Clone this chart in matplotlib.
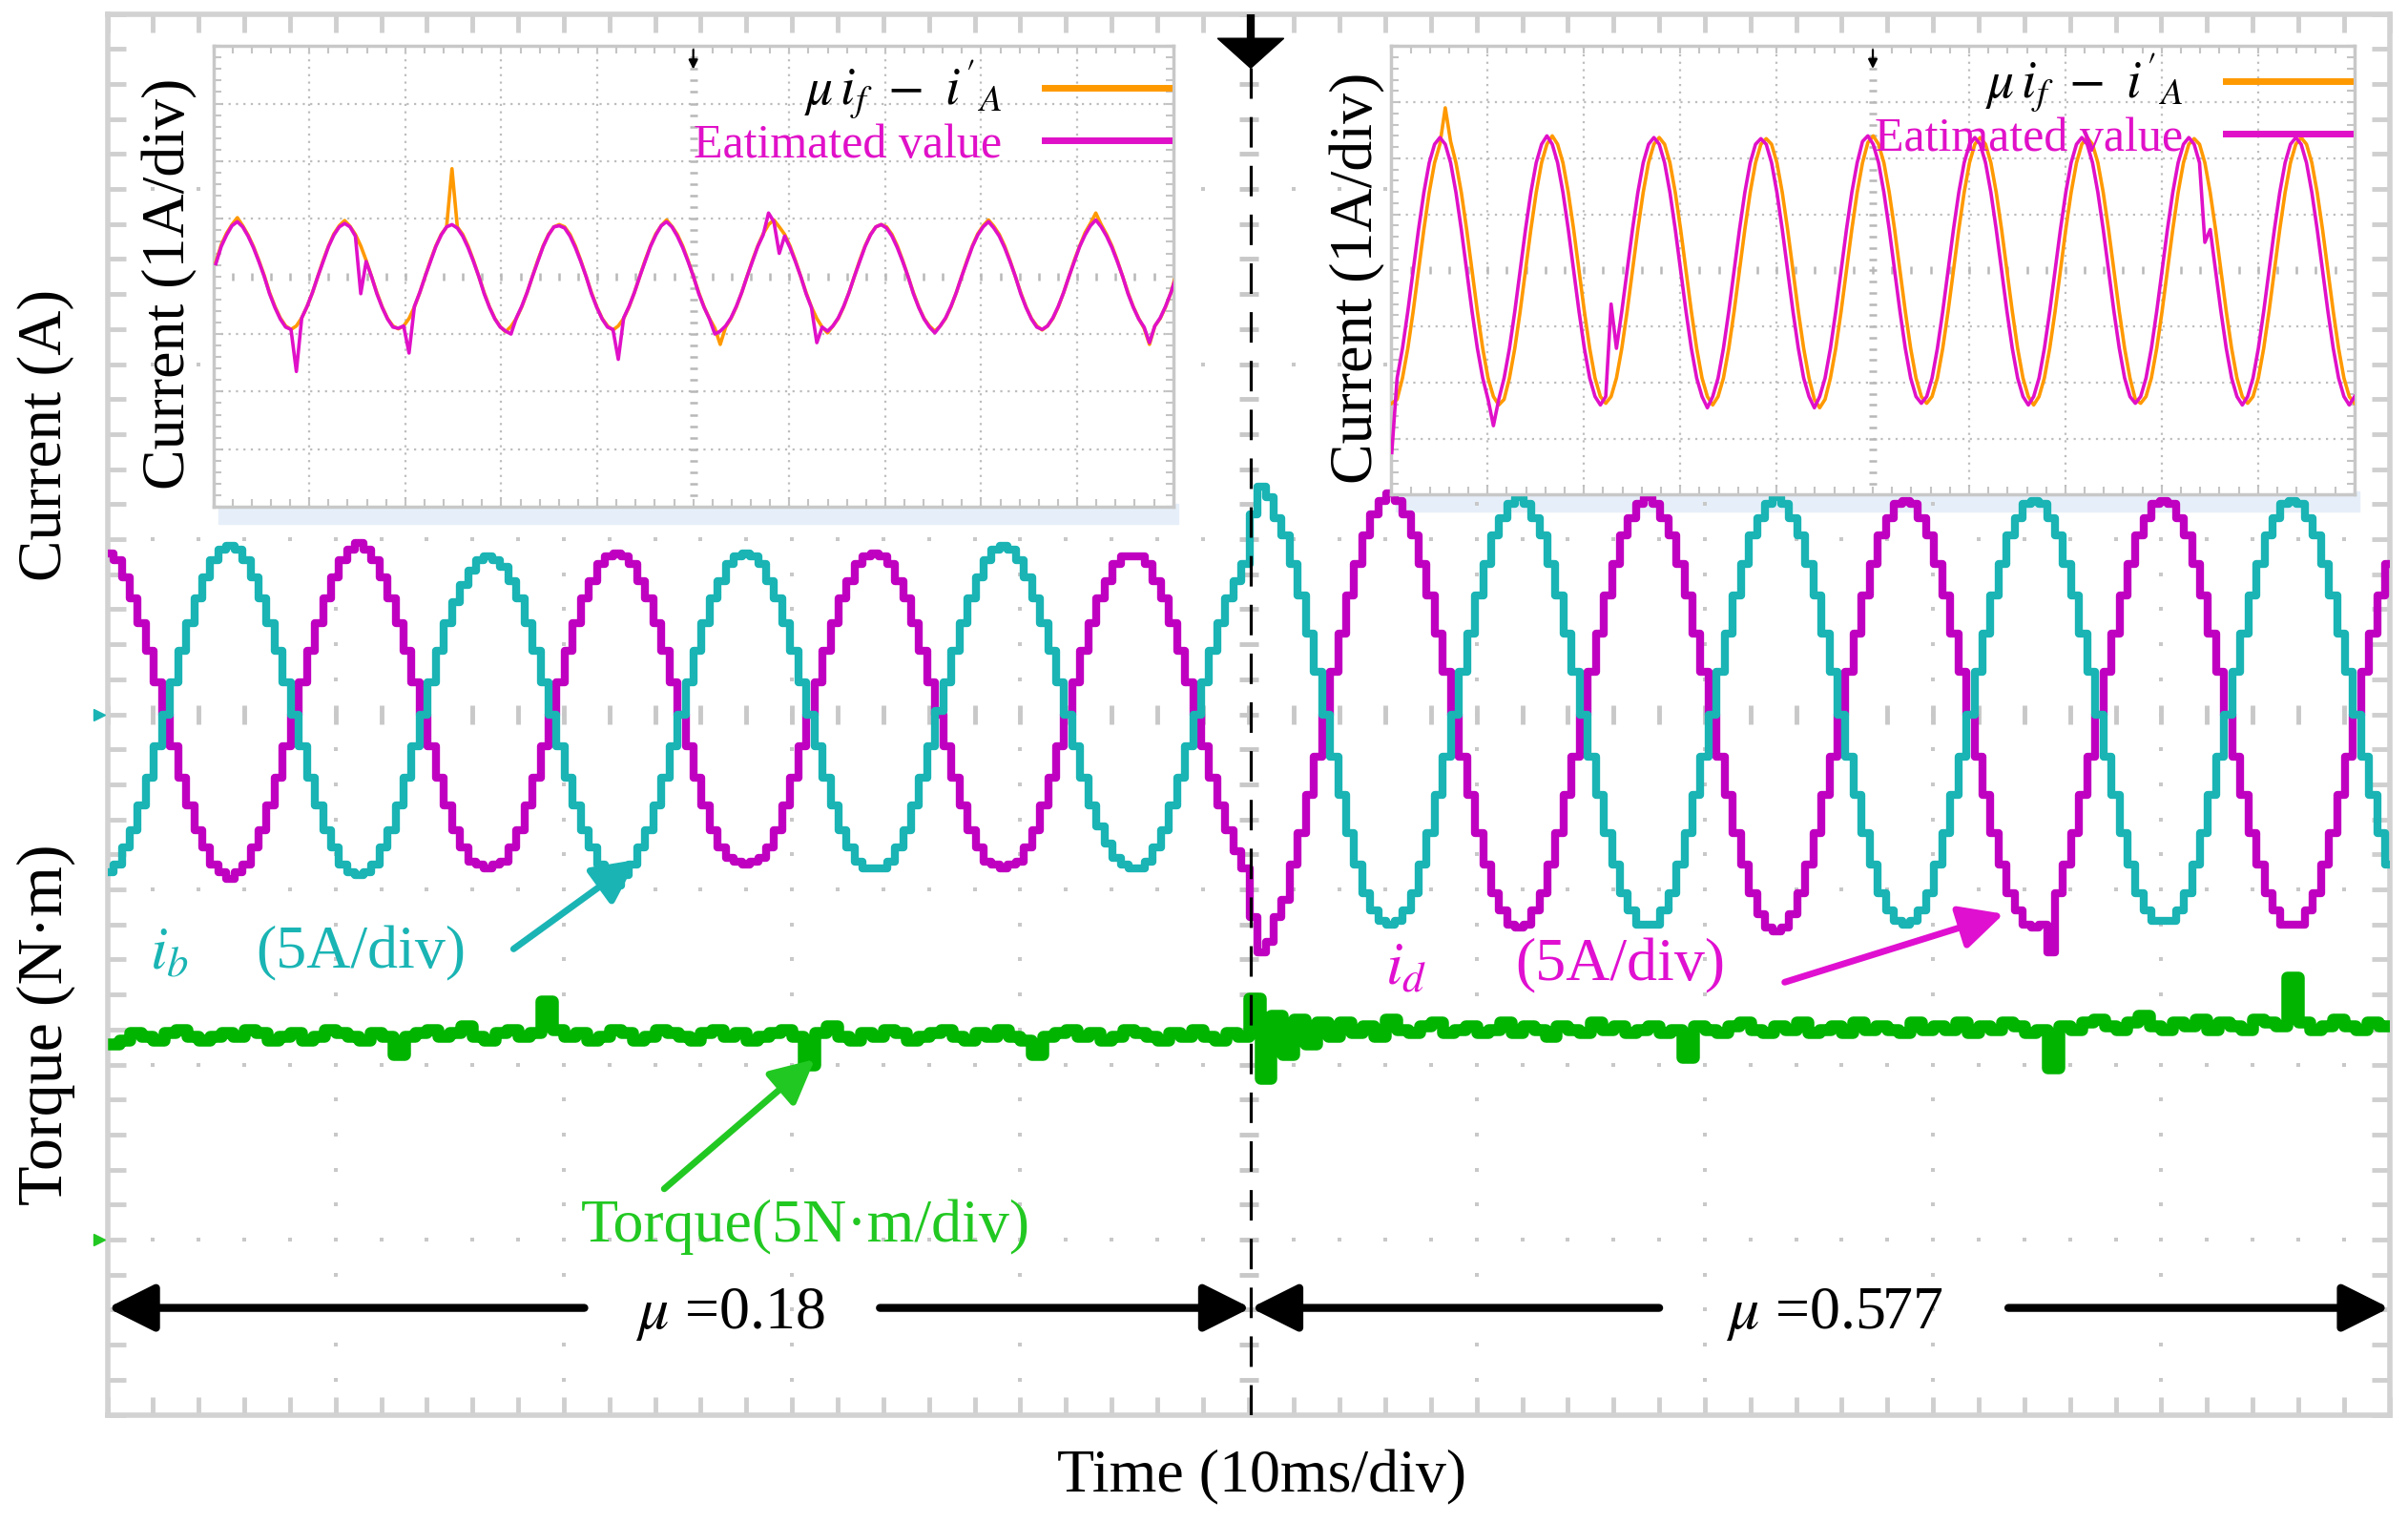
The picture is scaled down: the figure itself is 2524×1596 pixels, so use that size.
import numpy as np
import matplotlib
matplotlib.use('Agg')
import matplotlib.pyplot as plt
from matplotlib.patches import Polygon, Rectangle, FancyArrowPatch
from matplotlib.lines import Line2D

plt.rcParams['font.family'] = ['Liberation Serif', 'DejaVu Serif']
plt.rcParams['mathtext.fontset'] = 'stix'

# ---------------- data ----------------
# main screen: 10 ms/div, currents 5 A/div, torque 5 N*m/div (zero 3 div below centre)
main_t0_ms = 0.095
main_dt_ms = 0.353
i_b = [-4.5, -4.3, -3.8, -3.3, -2.6, -1.8, -0.9, 0.0, 0.9, 1.8, 2.6, 3.3, 3.9, 4.4, 4.7, 4.8, 4.7, 4.4, 3.9, 3.3, 2.6, 1.8, 0.9, 0.0, -0.9, -1.8, -2.6, -3.3, -3.8, -4.3, -4.5, -4.6,
       -4.5, -4.3, -3.8, -3.3, -2.6, -1.8, -0.9, 0.0, 0.9, 1.8, 2.6, 3.2, 3.7, 4.1, 4.4, 4.5, 4.4, 4.2, 3.8, 3.3, 2.6, 1.8, 0.9, 0.0, -0.9, -1.8, -2.6, -3.3, -3.8, -4.3, -4.6, -4.9,
       -4.6, -4.3, -3.8, -3.3, -2.6, -1.8, -0.9, 0.0, 0.9, 1.8, 2.6, 3.3, 3.8, 4.3, 4.5, 4.6, 4.5, 4.3, 3.8, 3.3, 2.6, 1.8, 0.9, 0.0, -0.9, -1.8, -2.6, -3.3, -3.8, -4.2, -4.4, -4.4,
       -4.4, -4.2, -3.8, -3.3, -2.6, -1.8, -0.9, 0.1, 0.9, 1.8, 2.6, 3.3, 3.9, 4.4, 4.7, 4.8, 4.7, 4.4, 3.9, 3.3, 2.6, 1.8, 0.9, 0.0, -0.9, -1.8, -2.6, -3.2, -3.7, -4.1, -4.3, -4.4,
       -4.4, -4.2, -3.8, -3.3, -2.6, -1.8, -0.9, 0.0, 0.9, 1.8, 2.6, 3.3, 3.8, 4.3, 5.7, 6.5, 6.2, 5.6, 5.1, 4.3, 3.4, 2.3, 1.2, 0.0, -1.2, -2.3, -3.4, -4.3, -5.1, -5.6, -5.9, -6.0,
       -5.9, -5.6, -5.1, -4.3, -3.4, -2.3, -1.2, 0.0, 1.2, 2.3, 3.4, 4.3, 5.1, 5.6, 6.0, 6.2, 6.0, 5.6, 5.1, 4.3, 3.4, 2.3, 1.2, 0.0, -1.2, -2.3, -3.4, -4.3, -5.1, -5.6, -6.0, -6.0,
       -6.0, -5.6, -5.1, -4.3, -3.4, -2.3, -1.2, 0.0, 1.2, 2.3, 3.4, 4.3, 5.1, 5.6, 6.0, 6.2, 6.0, 5.6, 5.1, 4.3, 3.4, 2.3, 1.2, 0.0, -1.2, -2.3, -3.4, -4.3, -5.1, -5.6, -5.9, -6.0,
       -5.9, -5.6, -5.1, -4.3, -3.4, -2.3, -1.2, 0.0, 1.2, 2.3, 3.4, 4.3, 5.1, 5.6, 6.0, 6.1, 6.0, 5.6, 5.1, 4.3, 3.4, 2.3, 1.2, 0.0, -1.2, -2.3, -3.4, -4.3, -5.1, -5.6, -5.9, -5.9,
       -5.9, -5.6, -5.1, -4.3, -3.4, -2.3, -1.2, 0.0, 1.2, 2.3, 3.4, 4.3, 5.1, 5.6, 6.0, 6.1, 6.0, 5.6, 5.1, 4.3, 3.4, 2.3, 1.2, 0.0, -1.2, -2.3, -3.4, -4.3]
i_d = [4.6, 4.4, 3.9, 3.3, 2.6, 1.8, 0.9, 0.0, -0.9, -1.8, -2.6, -3.3, -3.8, -4.3, -4.5, -4.7, -4.5, -4.3, -3.8, -3.3, -2.6, -1.8, -0.9, 0.0, 0.9, 1.8, 2.6, 3.3, 3.9, 4.4, 4.7, 4.9,
       4.7, 4.4, 3.9, 3.3, 2.6, 1.8, 0.9, 0.0, -0.9, -1.8, -2.6, -3.3, -3.8, -4.2, -4.3, -4.4, -4.3, -4.2, -3.8, -3.3, -2.6, -1.8, -0.9, 0.0, 0.9, 1.8, 2.6, 3.3, 3.8, 4.3, 4.5, 4.6,
       4.5, 4.3, 3.8, 3.3, 2.6, 1.8, 0.9, 0.0, -0.9, -1.8, -2.6, -3.3, -3.8, -4.1, -4.2, -4.3, -4.2, -4.1, -3.8, -3.3, -2.6, -1.8, -0.9, 0.0, 0.9, 1.8, 2.6, 3.3, 3.8, 4.3, 4.5, 4.6,
       4.5, 4.3, 3.8, 3.3, 2.6, 1.8, 0.9, 0.0, -0.9, -1.8, -2.6, -3.3, -3.8, -4.2, -4.3, -4.4, -4.3, -4.2, -3.8, -3.3, -2.6, -1.8, -0.9, 0.0, 0.9, 1.8, 2.6, 3.3, 3.8, 4.3, 4.5, 4.5,
       4.5, 4.3, 3.8, 3.3, 2.6, 1.8, 0.9, 0.0, -0.9, -1.8, -2.6, -3.3, -3.9, -4.4, -5.8, -6.8, -6.5, -5.8, -5.3, -4.3, -3.4, -2.3, -1.2, 0.0, 1.2, 2.3, 3.4, 4.3, 5.1, 5.7, 6.1, 6.3,
       6.1, 5.7, 5.1, 4.3, 3.4, 2.3, 1.2, 0.0, -1.2, -2.3, -3.4, -4.3, -5.1, -5.6, -6.0, -6.1, -6.0, -5.6, -5.1, -4.3, -3.4, -2.3, -1.2, 0.0, 1.2, 2.3, 3.4, 4.3, 5.1, 5.6, 6.0, 6.2,
       6.0, 5.6, 5.1, 4.3, 3.4, 2.3, 1.2, 0.0, -1.2, -2.3, -3.4, -4.3, -5.1, -5.7, -6.1, -6.2, -6.1, -5.7, -5.1, -4.3, -3.4, -2.3, -1.2, 0.0, 1.2, 2.3, 3.4, 4.3, 5.1, 5.6, 6.0, 6.1,
       6.0, 5.6, 5.1, 4.3, 3.4, 2.3, 1.2, 0.0, -1.2, -2.3, -3.4, -4.3, -5.1, -5.6, -6.0, -6.1, -6.0, -6.8, -5.1, -4.3, -3.4, -2.3, -1.2, 0.0, 1.2, 2.3, 3.4, 4.3, 5.1, 5.6, 6.0, 6.1,
       6.0, 5.6, 5.1, 4.3, 3.4, 2.3, 1.2, 0.0, -1.2, -2.3, -3.4, -4.3, -5.1, -5.6, -6.0, -6.0, -6.0, -5.6, -5.1, -4.3, -3.4, -2.3, -1.2, 0.0, 1.2, 2.3, 3.4, 4.3]
torque_t0_ms = 0.25
torque_dt_ms = 0.5
torque = [5.6, 5.7, 5.9, 5.8, 5.7, 5.9, 6.0, 5.8, 5.7, 5.8, 5.9, 5.8, 6.0, 5.9, 5.7, 5.8, 5.9, 5.7, 5.8, 6.0,
          5.9, 5.8, 5.7, 5.9, 5.8, 5.3, 5.8, 5.9, 6.0, 5.8, 5.9, 6.1, 5.8, 5.7, 5.9, 6.0, 5.8, 5.9, 6.8, 6.0,
          5.8, 5.9, 5.7, 5.8, 6.0, 5.9, 5.7, 5.8, 6.0, 5.9, 5.8, 5.7, 5.9, 6.0, 5.8, 5.9, 5.7, 5.8, 5.9, 6.0,
          5.8, 5.0, 5.9, 6.1, 5.8, 5.7, 5.9, 5.8, 6.0, 5.9, 5.7, 5.8, 5.9, 6.0, 5.8, 5.7, 5.9, 5.8, 6.0, 5.8,
          5.7, 5.3, 5.8, 5.9, 6.0, 5.8, 5.9, 5.7, 5.8, 6.0, 5.9, 5.8, 5.7, 5.9, 5.8, 6.0, 5.8, 5.7, 5.9, 5.8,
          6.9, 4.6, 6.4, 5.3, 6.3, 5.6, 6.2, 5.8, 6.2, 5.9, 6.1, 5.8, 6.3, 6.0, 5.9, 6.1, 6.2, 5.9, 6.0, 6.1,
          5.9, 6.0, 6.2, 5.9, 6.1, 6.0, 5.8, 6.1, 6.0, 5.9, 6.2, 6.0, 6.1, 5.9, 6.0, 6.1, 5.9, 6.0, 5.2, 6.1,
          6.0, 5.9, 6.1, 6.2, 6.0, 5.9, 6.1, 6.0, 6.2, 5.9, 6.0, 6.1, 5.9, 6.2, 6.0, 6.1, 6.0, 5.9, 6.2, 6.0,
          6.1, 6.0, 6.2, 5.9, 6.1, 6.0, 6.2, 6.1, 5.9, 6.0, 4.9, 6.1, 6.0, 6.2, 6.3, 6.1, 6.0, 6.2, 6.4, 6.1,
          6.0, 6.2, 6.1, 6.3, 6.0, 6.2, 6.1, 6.0, 6.3, 6.2, 6.1, 7.5, 6.2, 6.0, 6.1, 6.3, 6.1, 6.0, 6.2, 6.1]

# inset 1 (mu = 0.18), 1 A/div
in1_t0 = 0.264
in1_dt = 0.559
in1_ref = [0.25, 0.55, 0.75, 0.9, 1.02, 0.88, 0.72, 0.52, 0.28, 0.02, -0.28, -0.52, -0.72, -0.86, -0.92, -0.86, -0.72, -0.52, -0.28, 0.0,
           0.28, 0.53, 0.74, 0.88, 0.97, 0.87, 0.73, 0.53, 0.28, 0.0, -0.28, -0.53, -0.73, -0.86, -0.91, -0.86, -0.73, -0.53, -0.28, 0.0,
           0.28, 0.53, 0.73, 0.86, 1.87, 0.86, 0.73, 0.53, 0.28, 0.0, -0.28, -0.53, -0.73, -0.87, -0.96, -0.87, -0.73, -0.53, -0.28, 0.0,
           0.28, 0.53, 0.73, 0.86, 0.9, 0.86, 0.73, 0.53, 0.28, 0.0, -0.28, -0.53, -0.73, -0.86, -0.93, -0.86, -0.73, -0.53, -0.28, 0.0,
           0.28, 0.53, 0.74, 0.88, 0.98, 0.87, 0.73, 0.53, 0.28, 0.0, -0.28, -0.53, -0.73, -0.9, -1.18, -0.88, -0.73, -0.53, -0.28, 0.0,
           0.28, 0.53, 0.74, 0.9, 0.98, 0.86, 0.73, 0.53, 0.28, 0.0, -0.28, -0.53, -0.73, -0.88, -0.98, -0.86, -0.73, -0.53, -0.28, 0.0,
           0.28, 0.53, 0.73, 0.86, 0.9, 0.86, 0.73, 0.53, 0.28, 0.0, -0.28, -0.53, -0.73, -0.86, -0.95, -0.86, -0.73, -0.53, -0.28, 0.0,
           0.28, 0.53, 0.74, 0.88, 0.98, 0.87, 0.73, 0.53, 0.28, 0.0, -0.28, -0.53, -0.73, -0.86, -0.93, -0.86, -0.73, -0.53, -0.28, 0.0,
           0.28, 0.53, 0.76, 0.92, 1.1, 0.9, 0.73, 0.53, 0.28, 0.0, -0.28, -0.53, -0.73, -0.9, -1.18, -0.86, -0.73, -0.53, -0.28, 0.05]
in1_est = [0.22, 0.52, 0.72, 0.88, 0.95, 0.86, 0.70, 0.50, 0.26, 0.0, -0.3, -0.54, -0.74, -0.88, -0.92, -1.65, -0.72, -0.52, -0.28, 0.0,
           0.26, 0.52, 0.72, 0.86, 0.92, 0.86, 0.70, -0.3, 0.26, 0.0, -0.3, -0.54, -0.74, -0.88, -0.9, -0.86, -1.33, -0.52, -0.28, 0.0,
           0.26, 0.52, 0.72, 0.86, 0.9, 0.84, 0.70, 0.50, 0.26, 0.0, -0.3, -0.54, -0.74, -0.88, -0.95, -1.0, -0.72, -0.52, -0.28, 0.0,
           0.26, 0.52, 0.72, 0.86, 0.88, 0.84, 0.70, 0.50, 0.26, 0.0, -0.3, -0.54, -0.74, -0.88, -0.92, -1.44, -0.72, -0.52, -0.28, 0.0,
           0.26, 0.52, 0.72, 0.88, 0.95, 0.86, 0.70, 0.50, 0.26, 0.0, -0.3, -0.54, -0.74, -1.0, -0.95, -0.86, -0.72, -0.52, -0.28, 0.0,
           0.26, 0.52, 0.72, 1.1, 0.95, 0.4, 0.70, 0.50, 0.26, 0.0, -0.3, -0.54, -1.15, -0.88, -0.95, -0.86, -0.72, -0.52, -0.28, 0.0,
           0.26, 0.52, 0.72, 0.86, 0.9, 0.84, 0.70, 0.50, 0.26, 0.0, -0.3, -0.54, -0.74, -0.88, -0.98, -0.86, -0.72, -0.52, -0.28, 0.0,
           0.26, 0.52, 0.72, 0.86, 0.95, 0.84, 0.70, 0.50, 0.26, 0.0, -0.3, -0.54, -0.74, -0.88, -0.92, -0.86, -0.72, -0.52, -0.28, 0.0,
           0.26, 0.52, 0.72, 0.88, 0.98, 0.86, 0.70, 0.50, 0.26, 0.0, -0.3, -0.54, -0.74, -0.88, -1.15, -0.86, -0.72, -0.52, -0.28, 0.0]

# inset 2 (mu = 0.577), 1 A/div
in2_t0 = 0.045
in2_dt = 0.5555
in2_ref = [-2.37, -2.3, -1.92, -1.39, -0.73, 0.0, 0.73, 1.39, 1.92, 2.25, 2.9, 2.3, 1.92, 1.39, 0.73, 0.0, -0.73, -1.39, -1.92, -2.25,
           -2.4, -2.3, -1.92, -1.39, -0.73, 0.0, 0.73, 1.39, 1.92, 2.25, 2.4, 2.25, 1.92, 1.39, 0.73, 0.0, -0.73, -1.39, -1.92, -2.25,
           -2.37, -2.25, -1.92, -1.39, -0.73, 0.0, 0.73, 1.39, 1.92, 2.25, 2.37, 2.25, 1.92, 1.39, 0.73, 0.0, -0.73, -1.39, -1.92, -2.25,
           -2.4, -2.25, -1.92, -1.39, -0.73, 0.0, 0.73, 1.39, 1.92, 2.25, 2.35, 2.25, 1.92, 1.39, 0.73, 0.0, -0.73, -1.39, -1.92, -2.3,
           -2.45, -2.3, -1.92, -1.39, -0.73, 0.0, 0.73, 1.39, 1.92, 2.28, 2.4, 2.25, 1.92, 1.39, 0.73, 0.0, -0.73, -1.39, -1.92, -2.25,
           -2.37, -2.25, -1.92, -1.39, -0.73, 0.0, 0.73, 1.39, 1.92, 2.25, 2.37, 2.25, 1.92, 1.39, 0.73, 0.0, -0.73, -1.39, -1.92, -2.25,
           -2.4, -2.25, -1.92, -1.39, -0.73, 0.0, 0.73, 1.39, 1.92, 2.25, 2.37, 2.25, 1.92, 1.39, 0.73, 0.0, -0.73, -1.39, -1.92, -2.3,
           -2.37, -2.25, -1.92, -1.39, -0.73, 0.0, 0.73, 1.39, 1.92, 2.25, 2.35, 2.25, 1.92, 1.39, 0.73, 0.0, -0.73, -1.39, -1.92, -2.25,
           -2.37, -2.25, -1.92, -1.39, -0.73, 0.0, 0.73, 1.39, 1.92, 2.25, 2.37, 2.25, 1.92, 1.39, 0.73, 0.0, -0.73, -1.39, -1.92, -2.25,
           -2.37]
in2_est = [-3.25, -1.92, -1.39, -0.73, 0.0, 0.73, 1.39, 1.92, 2.25, 2.37, 2.25, 1.92, 1.39, 0.73, 0.0, -0.73, -1.39, -1.92, -2.3, -2.77,
           -2.3, -1.92, -1.39, -0.73, 0.0, 0.73, 1.39, 1.92, 2.25, 2.4, 2.25, 1.92, 1.39, 0.73, 0.0, -0.73, -1.39, -1.92, -2.25, -2.4,
           -2.25, -0.6, -1.39, -0.73, 0.0, 0.73, 1.39, 1.92, 2.25, 2.37, 2.25, 1.92, 1.39, 0.73, 0.0, -0.73, -1.39, -1.92, -2.25, -2.45,
           -2.25, -1.92, -1.39, -0.73, 0.0, 0.73, 1.39, 1.92, 2.25, 2.35, 2.25, 1.92, 1.39, 0.73, 0.0, -0.73, -1.39, -1.92, -2.25, -2.45,
           -2.25, -1.92, -1.39, -0.73, 0.0, 0.73, 1.39, 1.92, 2.3, 2.4, 2.25, 1.92, 1.39, 0.73, 0.0, -0.73, -1.39, -1.92, -2.25, -2.37,
           -2.25, -1.92, -1.39, -0.73, 0.0, 0.73, 1.39, 1.92, 2.25, 2.37, 2.25, 1.92, 1.39, 0.73, 0.0, -0.73, -1.39, -1.92, -2.25, -2.4,
           -2.25, -1.92, -1.39, -0.73, 0.0, 0.73, 1.39, 1.92, 2.25, 2.37, 2.25, 1.92, 1.39, 0.73, 0.0, -0.73, -1.39, -1.92, -2.25, -2.37,
           -2.25, -1.92, -1.39, -0.73, 0.0, 0.73, 1.39, 1.92, 2.25, 2.37, 2.25, 1.92, 0.5, 0.73, 0.0, -0.73, -1.39, -1.92, -2.25, -2.4,
           -2.25, -1.92, -1.39, -0.73, 0.0, 0.73, 1.39, 1.92, 2.25, 2.37, 2.25, 1.92, 1.39, 0.73, 0.0, -0.73, -1.39, -1.92, -2.25, -2.4,
           -2.25]

mu_labels = ['$\\mu$ =0.18', '$\\mu$ =0.577']
legend_labels = ["$\\mu\\, i_{f}\\ -\\ i'_{A}$", 'Eatimated value']

# ---------------- styling ----------------
CYAN = '#1ab4b4'
MAG = '#c000c0'
MAG_TXT = '#e010d0'
MAG_IN = '#e010c8'
GREEN = '#00b400'
GREEN_TXT = '#22c822'
ORANGE = '#ff9900'
GRID = '#c8c8c8'
CUR_SCALE = 5.0     # A/div
TQ_SCALE = 5.0      # N*m/div
TQ_ZERO = -3.0      # div

fig = plt.figure(figsize=(25.24, 15.96), dpi=100)
fig.patch.set_facecolor('white')

ax = fig.add_axes([0.0446, 0.0711, 0.9477, 0.9198])
ax.set_xlim(0, 100)
ax.set_ylim(-4, 4)

xs_minor = np.arange(0, 100.01, 2)
ys_minor = np.arange(-4, 4.001, 0.2)

# scope grid (dots along the major divisions)
for xv in range(10, 100, 10):
    if xv == 50:
        continue
    ax.plot(np.full(ys_minor.size, xv), ys_minor, ls='none', marker='s', ms=3.2,
            mew=0, color=GRID, zorder=1)
for yv in [-3, -2, -1, 1, 2, 3]:
    ax.plot(xs_minor, np.full(xs_minor.size, yv), ls='none', marker='s', ms=3.2,
            mew=0, color=GRID, zorder=1)
ax.plot(xs_minor, np.zeros(xs_minor.size), ls='none', marker='|', ms=14, mew=3.5,
        color=GRID, zorder=1)
ax.plot(np.full(ys_minor.size, 50), ys_minor, ls='none', marker='_', ms=14, mew=3.5,
        color=GRID, zorder=1)

ax.set_xticks(xs_minor)
ax.set_yticks(ys_minor)
ax.tick_params(axis='both', which='major', direction='in', length=14, width=3.5,
               color='#cfcfcf', top=True, right=True, bottom=True, left=True,
               labelbottom=False, labelleft=False)
for sp in ax.spines.values():
    sp.set_color('#d2d2d2')
    sp.set_linewidth(4)

# traces
t_main = main_t0_ms + np.arange(len(i_b)) * main_dt_ms
ax.plot(t_main, np.array(i_d) / CUR_SCALE, color=MAG, lw=6, drawstyle='steps-mid', zorder=3)
ax.plot(t_main, np.array(i_b) / CUR_SCALE, color=CYAN, lw=6, drawstyle='steps-mid', zorder=3)
t_tq = torque_t0_ms + np.arange(len(torque)) * torque_dt_ms
ax.plot(t_tq, TQ_ZERO + np.array(torque) / TQ_SCALE, color=GREEN, lw=9,
        drawstyle='steps-mid', zorder=3)

# channel markers
ax.plot([-0.35], [0], marker='>', ms=9, color=CYAN, clip_on=False, zorder=5)
ax.plot([-0.35], [TQ_ZERO], marker='>', ms=9, color=GREEN_TXT, clip_on=False, zorder=5)

# cursor line and trigger marker
ax.axvline(50.1, color='black', lw=2.3, ls=(0, (10, 6)), zorder=4)
ax.add_patch(Polygon([(48.65, 3.86), (51.55, 3.86), (50.1, 3.69)], closed=True,
                     color='black', zorder=6, clip_on=False))
ax.plot([50.1, 50.1], [4.0, 3.85], color='black', lw=6, zorder=6, solid_capstyle='butt')

# annotations
FS = 46
ax.text(2.7, -1.37, '$i_b$', color=CYAN, fontsize=FS, ha='center', va='center', zorder=6)
ax.text(11.1, -1.37, '(5A/div)', color=CYAN, fontsize=FS, ha='center', va='center', zorder=6)
ax.text(56.9, -1.46, '$i_d$', color=MAG_TXT, fontsize=FS, ha='center', va='center', zorder=6)
ax.text(66.3, -1.44, '(5A/div)', color=MAG_TXT, fontsize=FS, ha='center', va='center', zorder=6)
ax.text(30.6, -2.93, 'Torque(5N·m/div)', color=GREEN_TXT, fontsize=FS, ha='center',
        va='center', zorder=6)


def arrow(p0, p1, color, lw=5, ms=70):
    ax.add_patch(FancyArrowPatch(p0, p1, arrowstyle='-|>,head_length=0.4,head_width=0.2',
                                 mutation_scale=ms, color=color, lw=lw, zorder=6,
                                 shrinkA=0, shrinkB=0))


arrow((17.8, -1.34), (23.2, -0.83), CYAN)
arrow((73.5, -1.53), (83.1, -1.14), MAG_TXT)
arrow((24.4, -2.71), (31.0, -1.97), GREEN_TXT)

y_mu = -3.39
arrow((20.9, y_mu), (0.0, y_mu), 'black', lw=6, ms=75)
arrow((33.85, y_mu), (50.1, y_mu), 'black', lw=6, ms=75)
arrow((68.0, y_mu), (50.1, y_mu), 'black', lw=6, ms=75)
arrow((83.3, y_mu), (100.0, y_mu), 'black', lw=6, ms=75)
ax.text(27.3, -3.43, mu_labels[0], fontsize=FS, ha='center', va='center', zorder=6)
ax.text(75.7, -3.43, mu_labels[1], fontsize=FS, ha='center', va='center', zorder=6)

# figure labels
fig.text(0.019, 0.7146, 'Current (A)', rotation=90, fontsize=47, ha='center', va='center')
fig.text(0.019, 0.327, 'Torque (N·m)', rotation=90, fontsize=49, ha='center', va='center')
fig.text(0.524, 0.030, 'Time (10ms/div)', fontsize=46, ha='center', va='center')


# ---------------- insets ----------------
def make_inset(rect, t0, dt, ref, est, leg_anchor, label_pos):
    # soft shadow under the inset
    ax.add_patch(Rectangle((rect[0] + 0.002, rect[1] - 0.011), rect[2], 0.013,
                           transform=fig.transFigure, color='#e6eff9', zorder=0.5,
                           clip_on=False))
    a = fig.add_axes(rect)
    a.set_facecolor('white')
    a.set_xlim(0, 100)
    a.set_ylim(-4, 4)
    for xv in range(10, 100, 10):
        if xv != 50:
            a.axvline(xv, color='#bdbdbd', lw=1.6, ls=(0, (1, 2.5)), zorder=1)
    for yv in [-3, -2, -1, 1, 2, 3]:
        a.axhline(yv, color='#bdbdbd', lw=1.6, ls=(0, (1, 2.5)), zorder=1)
    a.plot(xs_minor, np.zeros(xs_minor.size), ls='none', marker='|', ms=6, mew=1.8,
           color='#b8b8b8', zorder=1)
    a.plot(np.full(ys_minor.size, 50), ys_minor, ls='none', marker='_', ms=6, mew=1.8,
           color='#b8b8b8', zorder=1)
    a.set_xticks(xs_minor)
    a.set_yticks(ys_minor)
    a.tick_params(axis='both', direction='in', length=6, width=1.5, color='#c4c4c4',
                  top=True, right=True, labelbottom=False, labelleft=False)
    for sp in a.spines.values():
        sp.set_color('#c8c8c8')
        sp.set_linewidth(2.5)
    t = t0 + np.arange(len(ref)) * dt
    a.plot(t, ref, color=ORANGE, lw=2.6, zorder=3)
    t = t0 + np.arange(len(est)) * dt
    a.plot(t, est, color=MAG_IN, lw=2.6, zorder=3)
    a.annotate('', xy=(50, 3.55), xytext=(50, 3.98),
               arrowprops=dict(arrowstyle='-|>', color='black', lw=1.6, mutation_scale=14))
    handles = [Line2D([], [], color=ORANGE, lw=5), Line2D([], [], color=MAG_IN, lw=5)]
    leg = a.legend(handles, legend_labels, loc='upper right', bbox_to_anchor=leg_anchor,
                   frameon=False, markerfirst=False, fontsize=36, handlelength=2.6,
                   handletextpad=0.9, labelspacing=0.05, borderpad=0.1, borderaxespad=0.0)
    leg.get_texts()[0].set_color('black')
    leg.get_texts()[0].set_fontsize(40)
    leg.get_texts()[1].set_color(MAG_IN)
    leg.set_zorder(6)
    fig.text(label_pos[0], label_pos[1], 'Current (1A/div)', rotation=90, fontsize=46,
             ha='center', va='center')
    return a


make_inset([0.0886, 0.6672, 0.3986, 0.3026], in1_t0, in1_dt, in1_ref, in1_est,
           (1.0, 0.985), (0.0708, 0.8134))
make_inset([0.5778, 0.6752, 0.3999, 0.2945], in2_t0, in2_dt, in2_ref, in2_est,
           (1.0, 1.0), (0.5638, 0.8174))

fig.savefig('out.png', dpi=100, facecolor='white')
